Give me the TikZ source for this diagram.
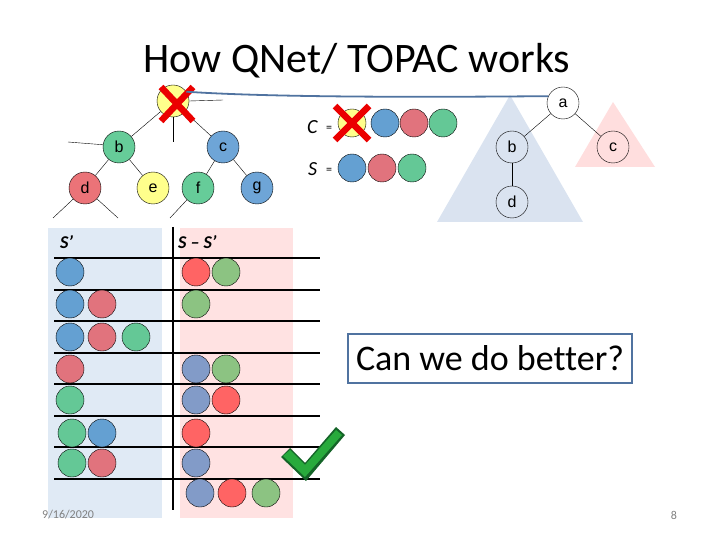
\documentclass[tikz,border=0pt]{standalone}
\usepackage{fontspec}
\setmainfont{Carlito}[Ligatures={NoCommon}]
\newfontfamily\arialf{Liberation Sans}
\definecolor{tGreen}{RGB}{102,204,153}
\definecolor{tBlue}{RGB}{110,165,215}
\definecolor{tRed}{RGB}{235,115,120}
\definecolor{tYellow}{RGB}{255,255,140}
\definecolor{lBlue}{RGB}{100,160,210}
\definecolor{lRed}{RGB}{225,115,125}
\definecolor{lGreen}{RGB}{100,200,150}
\definecolor{rRed}{RGB}{255,100,100}
\definecolor{rGreen}{RGB}{140,195,130}
\definecolor{rGray}{RGB}{130,155,200}
\definecolor{bgBlue}{RGB}{224,234,245}
\definecolor{bgPink}{RGB}{255,226,226}
\definecolor{triBlue}{RGB}{218,227,240}
\definecolor{triPink}{RGB}{255,222,222}
\definecolor{steel}{RGB}{80,115,160}
\definecolor{xred}{RGB}{235,0,0}
\definecolor{ckGreen}{RGB}{40,170,60}
\definecolor{ckDark}{RGB}{20,100,40}
\begin{document}
\begin{tikzpicture}[x=1pt,y=-1pt,
  tnode/.style={circle,draw,minimum size=32pt,inner sep=0pt,font=\arialf\fontsize{16}{16}\selectfont},
  ball/.style={circle,draw,minimum size=28pt,inner sep=0pt},
  xmark/.style={draw=xred,line width=6.5pt},
  rowline/.style={line width=1.8pt},
  lbl/.style={font=\fontsize{18}{18}\selectfont\bfseries\itshape,anchor=west,inner sep=0pt}]
\useasboundingbox (0,0) rectangle (720,540);
% title
\node[font=\fontsize{42}{42}\selectfont] (title) at (357,61) {How QNet/ TOPAC works};
% backgrounds
\fill[bgBlue] (48,228) rectangle (162,518);
\fill[bgPink] (180,228) rectangle (293,518);
\fill[triBlue] (510,95) -- (583,222) -- (437,222) -- cycle;
\fill[triPink] (613,102) -- (655,167) -- (575,167) -- cycle;
% left tree
\node[tnode,fill=tYellow] (root) at (173,101) {};
\node[tnode,fill=tGreen] (b) at (119,147) {b};
\node[tnode,fill=tBlue] (c) at (223,147) {c};
\node[tnode,fill=tRed] (d) at (85,188) {d};
\node[tnode,fill=tYellow] (e) at (153,188) {e};
\node[tnode,fill=tGreen] (f) at (198,188) {f};
\node[tnode,fill=tBlue] (g) at (257,188) {g};
\draw (root) -- (b); \draw (root) -- (c);
\draw (b) -- (d); \draw (b) -- (e);
\draw (c) -- (f); \draw (c) -- (g);
\coordinate (s1) at (223,100);
\coordinate (s2) at (173,142);
\coordinate (s3) at (68,142);
\coordinate (s4) at (53,218);
\coordinate (s5) at (118,218);
\coordinate (s6) at (170,218);
\draw (root.east) -- (s1);
\draw (root.south) -- (s2);
\draw (s3) -- (b.172);
\draw (d) -- (s4); \draw (d) -- (s5);
\draw (f) -- (s6);
\draw[xmark] (161,87) -- (193,121);
\draw[xmark] (161,121) -- (193,87);
% right tree
\node[tnode,fill=white] (a) at (563,103) {a};
\node[tnode] (rb) at (512,147) {b};
\node[tnode] (rc) at (613,147) {c};
\node[tnode] (rd) at (512,202) {d};
\draw (a) -- (rb); \draw (a) -- (rc); \draw (rb) -- (rd);
\draw[steel,line width=1.8pt] (root.35) .. controls (280,98) and (450,97) .. (a.155);
% C and S lists
\node[font=\fontsize{20}{20}\selectfont\itshape,anchor=west,inner sep=0pt] (Clab) at (307,127) {C};
\node[font=\fontsize{12}{12}\selectfont,anchor=west,inner sep=0pt] (Ceq) at (326,129) {=};
\node[ball,fill=tYellow] (c1) at (352,123) {};
\node[ball,fill=lBlue] (c2) at (385,123) {};
\node[ball,fill=lRed] (c3) at (414,123) {};
\node[ball,fill=lGreen] (c4) at (443,123) {};
\draw[xmark] (335,106) -- (369,140);
\draw[xmark] (335,140) -- (369,106);
\node[font=\fontsize{20}{20}\selectfont\itshape,anchor=west,inner sep=0pt] (Slab) at (308,169) {S};
\node[font=\fontsize{12}{12}\selectfont,anchor=west,inner sep=0pt] (Seq) at (326,171) {=};
\node[ball,fill=lBlue] (s1b) at (352,168) {};
\node[ball,fill=lRed] (s2b) at (382,168) {};
\node[ball,fill=lGreen] (s3b) at (412,168) {};
% table
\node[lbl] (sp) at (60,242) {S'};
\node[lbl] (ssp) at (178,242) {S -- S'};
\coordinate (vt) at (173,227);
\coordinate (vb) at (173,510);
\draw[rowline] (vt) -- (vb);
\foreach \y [count=\i] in {258,290,321,353,384,416,447,479} {
  \coordinate (hl\i) at (54,\y);
  \coordinate (hr\i) at (320,\y);
  \draw[rowline] (hl\i) -- (hr\i);
}
% row 1
\node[ball,fill=lBlue] at (70,272) {};
\node[ball,fill=rRed] at (196,272) {};
\node[ball,fill=rGreen] at (226,272) {};
% row 2
\node[ball,fill=lBlue] at (70,304) {};
\node[ball,fill=lRed] at (102,304) {};
\node[ball,fill=rGreen] at (196,304) {};
% row 3
\node[ball,fill=lBlue] at (70,337) {};
\node[ball,fill=lRed] at (102,337) {};
\node[ball,fill=lGreen] at (136,337) {};
% row 4
\node[ball,fill=lRed] at (70,369) {};
\node[ball,fill=rGray] at (196,369) {};
\node[ball,fill=rGreen] at (226,369) {};
% row 5
\node[ball,fill=lGreen] at (70,400) {};
\node[ball,fill=rGray] at (196,400) {};
\node[ball,fill=rRed] at (226,400) {};
% row 6
\node[ball,fill=lGreen] at (72,433) {};
\node[ball,fill=lBlue] at (102,433) {};
\node[ball,fill=rRed] at (196,433) {};
% row 7
\node[ball,fill=lGreen] at (72,463) {};
\node[ball,fill=lRed] at (102,463) {};
\node[ball,fill=rGray] at (196,463) {};
% row 8
\node[ball,fill=rGray] at (200,493) {};
\node[ball,fill=rRed] at (232,493) {};
\node[ball,fill=rGreen] at (266,493) {};
% checkmark
\fill[ckDark] (281,457) -- (290,448) -- (305,463) -- (336,427) -- (345,435) -- (306,481) -- cycle;
\fill[ckGreen] (283,456) -- (290,450) -- (305,465) -- (336,430) -- (342,435) -- (305,477) -- cycle;
% question box
\node[draw=steel,line width=2pt,minimum width=284pt,minimum height=49pt,inner sep=0pt,font=\fontsize{36}{36}\selectfont] (q) at (490,358) {Can we do better?};
% footer
\node[font=\fontsize{12}{12}\selectfont,text=gray,anchor=west,inner sep=0pt] (date) at (42,515) {9/16/2020};
\node[font=\fontsize{12}{12}\selectfont,text=gray,inner sep=0pt] (pg) at (674,515) {8};
\end{tikzpicture}
\end{document}
